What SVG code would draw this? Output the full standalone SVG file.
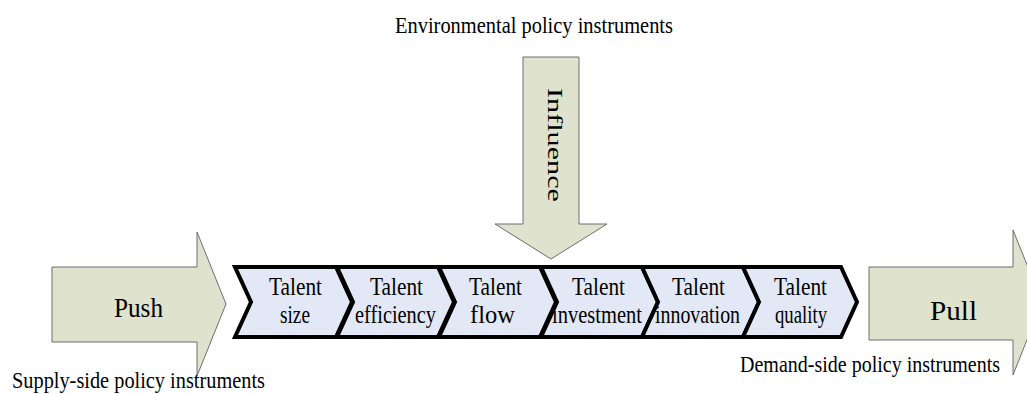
<svg xmlns="http://www.w3.org/2000/svg" width="1027" height="394" viewBox="0 0 1027 394">
<style>
.arrow{fill:#dfe2cc;stroke:#6e6e6e;stroke-width:1}
.chev{fill:#e2e8f5;stroke:#000;stroke-width:4;stroke-linejoin:miter}
text{font-family:"Liberation Serif","Times New Roman",serif;fill:#000}
.t{font-size:25px;text-anchor:start}
.lbl{font-size:24px}
</style>
<rect width="1027" height="394" fill="#fff"/>
<g id="push">
<polygon class="arrow" points="52,267 197,267 197,232 226,304 197,376 197,342 52,342"/>
<text x="114" y="317" font-size="28" textLength="49" lengthAdjust="spacingAndGlyphs">Push</text>
</g>
<g id="pull">
<polygon class="arrow" points="869,267 1013,267 1013,230 1042,302 1013,375 1013,340 869,340"/>
<text x="930" y="320" font-size="28" textLength="47" lengthAdjust="spacingAndGlyphs">Pull</text>
</g>
<g id="influence">
<polygon class="arrow" points="523,57 579,57 579,224 607,224 551,259 495,224 523,224"/>
<text transform="translate(548,88) rotate(90)" font-size="21" textLength="114" lengthAdjust="spacingAndGlyphs">Influence</text>
</g>
<g id="connectors"></g>
<g id="chev-size">
<polygon class="chev" points="235,267 336,267 352,302 336,337 235,337 251,302"/>
<text class="t" x="269" y="295" textLength="53" lengthAdjust="spacingAndGlyphs">Talent</text>
<text class="t" x="280" y="323" textLength="30" lengthAdjust="spacingAndGlyphs">size</text>
</g>
<g id="chev-efficiency">
<polygon class="chev" points="337,267 438,267 454,302 438,337 337,337 353,302"/>
<text class="t" x="370" y="295" textLength="53" lengthAdjust="spacingAndGlyphs">Talent</text>
<text class="t" x="355" y="323" textLength="81" lengthAdjust="spacingAndGlyphs">efficiency</text>
</g>
<g id="chev-flow">
<polygon class="chev" points="439,267 540,267 556,302 540,337 439,337 455,302"/>
<text class="t" x="469" y="295" textLength="53" lengthAdjust="spacingAndGlyphs">Talent</text>
<text class="t" x="470" y="323" textLength="45" lengthAdjust="spacingAndGlyphs">flow</text>
</g>
<g id="chev-investment">
<polygon class="chev" points="541,267 642,267 658,302 642,337 541,337 557,302"/>
<text class="t" x="572" y="295" textLength="53" lengthAdjust="spacingAndGlyphs">Talent</text>
<text class="t" x="552" y="323" textLength="90" lengthAdjust="spacingAndGlyphs">investment</text>
</g>
<g id="chev-innovation">
<polygon class="chev" points="642,267 743,267 759,302 743,337 642,337 658,302"/>
<text class="t" x="672" y="295" textLength="53" lengthAdjust="spacingAndGlyphs">Talent</text>
<text class="t" x="655" y="323" textLength="85" lengthAdjust="spacingAndGlyphs">innovation</text>
</g>
<g id="chev-quality">
<polygon class="chev" points="743,267 841,267 857,302 841,337 743,337 759,302"/>
<text class="t" x="774" y="295" textLength="53" lengthAdjust="spacingAndGlyphs">Talent</text>
<text class="t" x="775" y="323" textLength="52" lengthAdjust="spacingAndGlyphs">quality</text>
</g>
<g id="labels">
<text class="lbl" x="395" y="33" textLength="278" lengthAdjust="spacingAndGlyphs">Environmental policy instruments</text>
<text class="lbl" x="12" y="388" textLength="253" lengthAdjust="spacingAndGlyphs">Supply-side policy instruments</text>
<text class="lbl" x="740" y="372" textLength="260" lengthAdjust="spacingAndGlyphs">Demand-side policy instruments</text>
</g>
</svg>
